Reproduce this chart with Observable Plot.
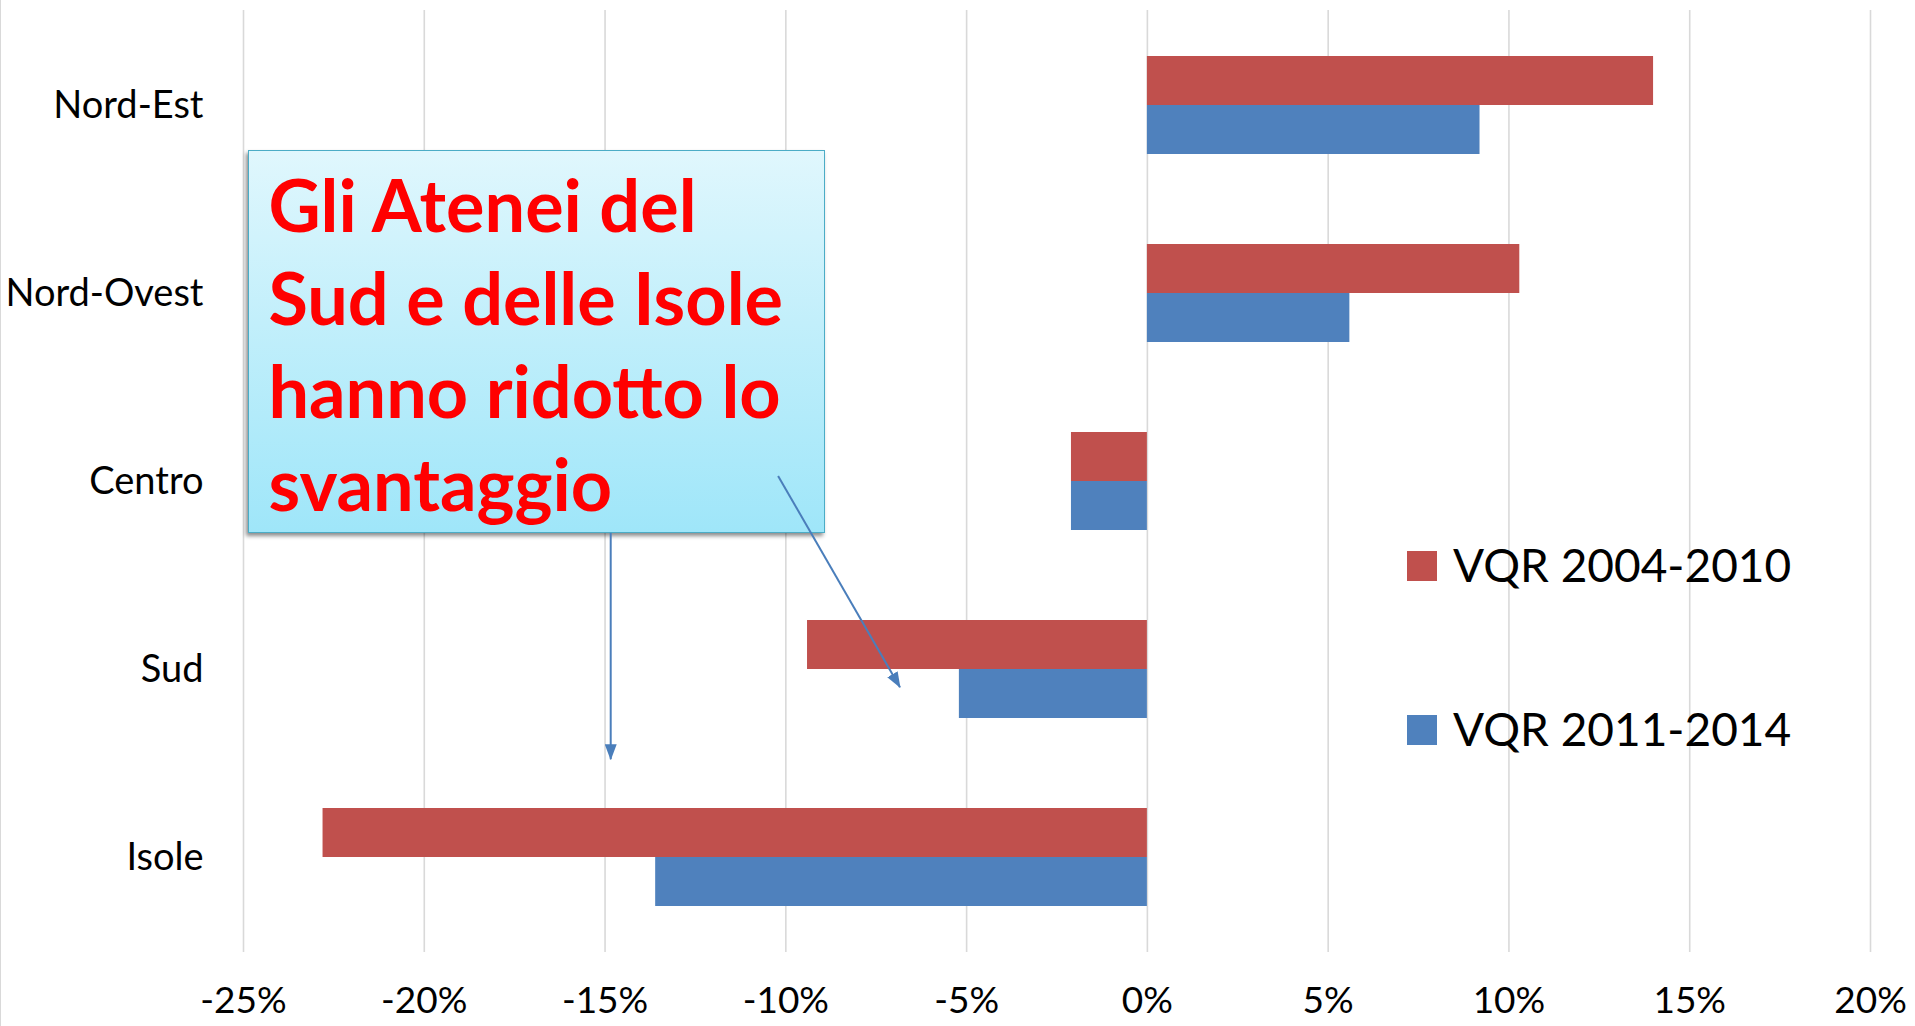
<!DOCTYPE html>
<html>
<head>
<meta charset="utf-8">
<script src="https://cdn.jsdelivr.net/npm/d3@7"></script>
<script src="https://cdn.jsdelivr.net/npm/@observablehq/plot@0.6"></script>
<style>
  html, body { margin: 0; padding: 0; background: #ffffff; }
  #wrap { position: relative; width: 1915px; height: 1026px; overflow: hidden; font-family: Lato, "Open Sans", sans-serif; }
  #edge { position: absolute; left: 0; top: 0; width: 1px; height: 1026px; background: #d9d9d9; }
  #callout {
    position: absolute; box-sizing: border-box;
    background: linear-gradient(to bottom, #e0f7fd 0%, #c2effb 45%, #9fe6f9 100%);
    border: 1.5px solid #4bacc6;
    box-shadow: -2px 3px 4px rgba(0,0,0,0.45);
    color: #ff0000; font-family: Lato, sans-serif; font-weight: 700;
    font-size: 72px; line-height: 93px; padding: 7px 0 0 19px; white-space: nowrap;
  }
  #overlay { position: absolute; left: 0; top: 0; pointer-events: none; }
</style>
</head>
<body>
<div id="wrap"><div id="edge"></div></div>
<script>
// ---- data ----
const regions = ["Nord-Est", "Nord-Ovest", "Centro", "Sud", "Isole"];
const seriesNames = ["VQR 2004-2010", "VQR 2011-2014"];
const vqr2004_2010 = [0.140, 0.103, -0.021, -0.094, -0.228];
const vqr2011_2014 = [0.092, 0.056, -0.021, -0.052, -0.136];
const xTicks = [-0.25, -0.20, -0.15, -0.10, -0.05, 0, 0.05, 0.10, 0.15, 0.20];
const seriesColors = ["#c0504d", "#4f81bd"];
const calloutLines = ["Gli Atenei del", "Sud e delle Isole", "hanno ridotto lo", "svantaggio"];

// ---- annotation anchors (in data units: x value, [region, fraction of band step]) ----
const calloutAnchor = { x1: -0.2485, x2: -0.0890, top: ["Nord-Est", 0.238], bottom: ["Centro", 0.276] };
const arrowAnchors = [
  { x1: -0.1483, y1: ["Centro", 0.276], x2: -0.1483, y2: ["Sud", 0.48] },
  { x1: -0.1020, y1: ["Centro", -0.027], x2: -0.0683, y2: ["Sud", 0.097] }
];

const rows = [];
regions.forEach((r, i) => {
  rows.push({ region: r, series: seriesNames[0], value: vqr2004_2010[i] });
  rows.push({ region: r, series: seriesNames[1], value: vqr2011_2014[i] });
});

const W = 1915, H = 1026;
const plot = Plot.plot({
  width: W, height: H,
  marginTop: 10, marginBottom: 74, marginLeft: 243, marginRight: 45,
  style: { fontFamily: "Lato, sans-serif", color: "#000", background: "transparent", overflow: "visible" },
  x: { domain: [-0.25, 0.20], label: null },
  y: { domain: regions, paddingInner: 0.48, paddingOuter: 0.24, label: null },
  color: { domain: seriesNames, range: seriesColors },
  marks: [
    Plot.gridX(xTicks, { stroke: "#d9d9d9", strokeOpacity: 1, strokeWidth: 1.6 }),
    Plot.barX(rows.filter(d => d.series === seriesNames[0]), { x: "value", y: "region", fill: "series", insetBottom: 49 }),
    Plot.barX(rows.filter(d => d.series === seriesNames[1]), { x: "value", y: "region", fill: "series", insetTop: 49 }),
    Plot.axisX({ ticks: xTicks, tickFormat: d => `${Math.round(d * 100)}%`, tickSize: 0, tickPadding: 34, fontSize: 37, label: null }),
    Plot.axisY({ tickSize: 0, tickPadding: 40, fontSize: 38, label: null })
  ]
});
const wrap = document.getElementById("wrap");
plot.style.position = "absolute"; plot.style.left = "0"; plot.style.top = "0";
wrap.appendChild(plot);

const xs = plot.scale("x"), ys = plot.scale("y");
const px = v => xs.apply(v);
const py = ([r, f]) => ys.apply(r) + ys.bandwidth / 2 + f * ys.step;

// callout box
const box = document.createElement("div");
box.id = "callout";
const bx1 = px(calloutAnchor.x1), bx2 = px(calloutAnchor.x2);
const by1 = py(calloutAnchor.top), by2 = py(calloutAnchor.bottom);
box.style.left = bx1 + "px"; box.style.top = by1 + "px";
box.style.width = (bx2 - bx1) + "px"; box.style.height = (by2 - by1) + "px";
box.innerHTML = calloutLines.map(l => `<div>${l}</div>`).join("");
wrap.appendChild(box);

// overlay: arrows + legend
const svg = d3.select(wrap).append("svg").attr("id", "overlay").attr("width", W).attr("height", H);
svg.append("defs").append("marker")
  .attr("id", "head").attr("markerUnits", "userSpaceOnUse")
  .attr("markerWidth", 16).attr("markerHeight", 12).attr("refX", 15).attr("refY", 6)
  .attr("orient", "auto")
  .append("path").attr("d", "M0,0 L16,6 L0,12 Z").attr("fill", "#4a7ebb");
svg.selectAll("line.arrow").data(arrowAnchors).join("line").attr("class", "arrow")
  .attr("x1", d => px(d.x1)).attr("y1", d => py(d.y1))
  .attr("x2", d => px(d.x2)).attr("y2", d => py(d.y2))
  .attr("stroke", "#4a7ebb").attr("stroke-width", 2).attr("marker-end", "url(#head)");

const legendTop = [551, 715];
const lg = svg.selectAll("g.leg").data(seriesNames).join("g").attr("class", "leg")
  .attr("transform", (d, i) => `translate(1407,${legendTop[i]})`);
lg.append("rect").attr("width", 30).attr("height", 30).attr("fill", (d, i) => seriesColors[i]);
lg.append("text").attr("x", 46).attr("y", 31).text(d => d)
  .attr("font-family", "Lato, sans-serif").attr("font-size", 46).attr("fill", "#000");
</script>
</body>
</html>
